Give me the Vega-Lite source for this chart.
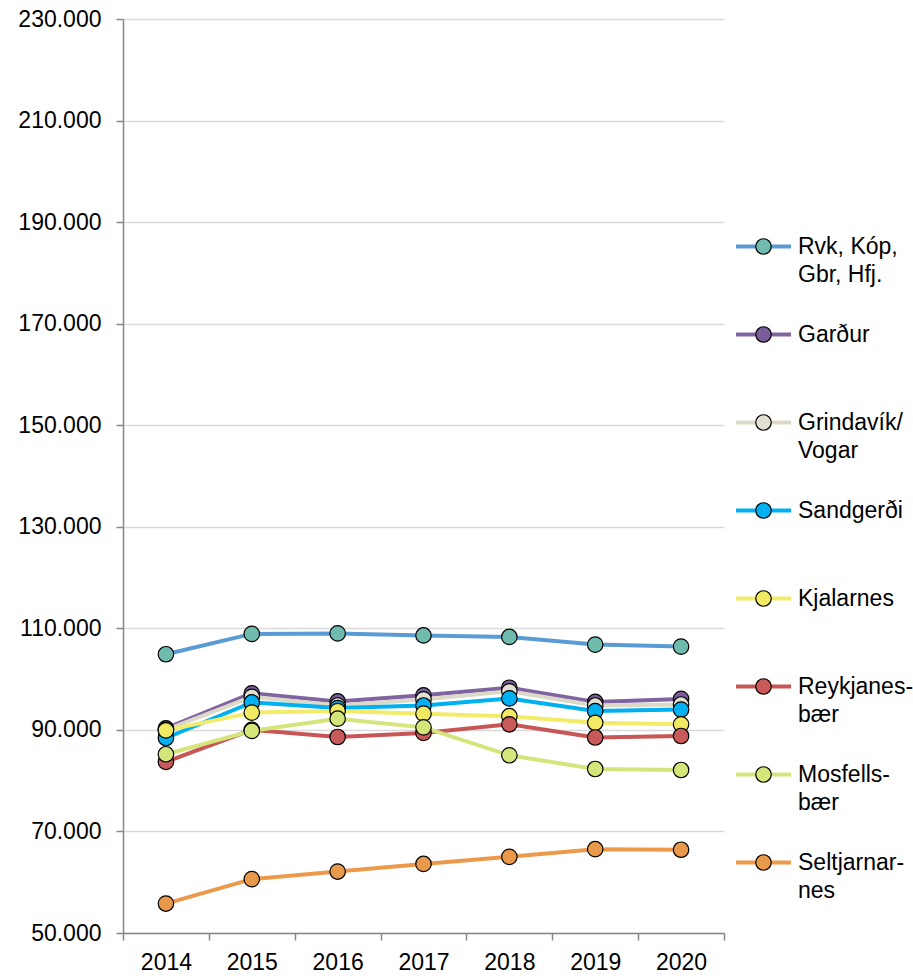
{
  "$schema": "https://vega.github.io/schema/vega-lite/v6.json",
  "autosize": {"type": "none"},
  "padding": {"left": 123, "top": 19, "right": 189, "bottom": 43},
  "width": 601,
  "height": 914,
  "background": "white",
  "config": {
    "view": {"stroke": null},
    "font": "Liberation Sans",
    "axis": {"labelFont": "Liberation Sans", "labelFontSize": 23, "labelColor": "black"},
    "legend": {"padding": 0}
  },
  "data": {
    "values": [
      {"year": "2014", "series": "Rvk, Kóp, Gbr, Hfj.", "value": 104900},
      {"year": "2015", "series": "Rvk, Kóp, Gbr, Hfj.", "value": 108900},
      {"year": "2016", "series": "Rvk, Kóp, Gbr, Hfj.", "value": 109000},
      {"year": "2017", "series": "Rvk, Kóp, Gbr, Hfj.", "value": 108600},
      {"year": "2018", "series": "Rvk, Kóp, Gbr, Hfj.", "value": 108300},
      {"year": "2019", "series": "Rvk, Kóp, Gbr, Hfj.", "value": 106800},
      {"year": "2020", "series": "Rvk, Kóp, Gbr, Hfj.", "value": 106400},
      {"year": "2014", "series": "Garður", "value": 90300},
      {"year": "2015", "series": "Garður", "value": 97200},
      {"year": "2016", "series": "Garður", "value": 95600},
      {"year": "2017", "series": "Garður", "value": 96800},
      {"year": "2018", "series": "Garður", "value": 98300},
      {"year": "2019", "series": "Garður", "value": 95500},
      {"year": "2020", "series": "Garður", "value": 96100},
      {"year": "2014", "series": "Grindavík/Vogar", "value": 90000},
      {"year": "2015", "series": "Grindavík/Vogar", "value": 96500},
      {"year": "2016", "series": "Grindavík/Vogar", "value": 94800},
      {"year": "2017", "series": "Grindavík/Vogar", "value": 96000},
      {"year": "2018", "series": "Grindavík/Vogar", "value": 97600},
      {"year": "2019", "series": "Grindavík/Vogar", "value": 94800},
      {"year": "2020", "series": "Grindavík/Vogar", "value": 95000},
      {"year": "2014", "series": "Sandgerði", "value": 88400},
      {"year": "2015", "series": "Sandgerði", "value": 95400},
      {"year": "2016", "series": "Sandgerði", "value": 94300},
      {"year": "2017", "series": "Sandgerði", "value": 94800},
      {"year": "2018", "series": "Sandgerði", "value": 96200},
      {"year": "2019", "series": "Sandgerði", "value": 93700},
      {"year": "2020", "series": "Sandgerði", "value": 94000},
      {"year": "2014", "series": "Kjalarnes", "value": 89900},
      {"year": "2015", "series": "Kjalarnes", "value": 93400},
      {"year": "2016", "series": "Kjalarnes", "value": 93700},
      {"year": "2017", "series": "Kjalarnes", "value": 93200},
      {"year": "2018", "series": "Kjalarnes", "value": 92700},
      {"year": "2019", "series": "Kjalarnes", "value": 91400},
      {"year": "2020", "series": "Kjalarnes", "value": 91100},
      {"year": "2014", "series": "Reykjanesbær", "value": 83700},
      {"year": "2015", "series": "Reykjanesbær", "value": 90000},
      {"year": "2016", "series": "Reykjanesbær", "value": 88600},
      {"year": "2017", "series": "Reykjanesbær", "value": 89400},
      {"year": "2018", "series": "Reykjanesbær", "value": 91100},
      {"year": "2019", "series": "Reykjanesbær", "value": 88500},
      {"year": "2020", "series": "Reykjanesbær", "value": 88800},
      {"year": "2014", "series": "Mosfellsbær", "value": 85200},
      {"year": "2015", "series": "Mosfellsbær", "value": 89800},
      {"year": "2016", "series": "Mosfellsbær", "value": 92200},
      {"year": "2017", "series": "Mosfellsbær", "value": 90500},
      {"year": "2018", "series": "Mosfellsbær", "value": 85000},
      {"year": "2019", "series": "Mosfellsbær", "value": 82300},
      {"year": "2020", "series": "Mosfellsbær", "value": 82100},
      {"year": "2014", "series": "Seltjarnarnes", "value": 55800},
      {"year": "2015", "series": "Seltjarnarnes", "value": 60600},
      {"year": "2016", "series": "Seltjarnarnes", "value": 62100},
      {"year": "2017", "series": "Seltjarnarnes", "value": 63600},
      {"year": "2018", "series": "Seltjarnarnes", "value": 65000},
      {"year": "2019", "series": "Seltjarnarnes", "value": 66500},
      {"year": "2020", "series": "Seltjarnarnes", "value": 66400}
    ]
  },
  "encoding": {
    "x": {
      "field": "year", "type": "ordinal", "bandPosition": 0.5,
      "scale": {"type": "band", "paddingInner": 0, "paddingOuter": 0},
      "axis": {
        "title": null, "labelAngle": 0, "tickBand": "extent", "grid": false,
        "domainColor": "#868686", "domainWidth": 1.5,
        "tickColor": "#868686", "tickWidth": 1.5, "tickSize": 7,
        "labelPadding": 11
      }
    },
    "y": {
      "field": "value", "type": "quantitative",
      "scale": {"domain": [50000, 230000], "nice": false, "zero": false},
      "axis": {
        "title": null,
        "values": [50000, 70000, 90000, 110000, 130000, 150000, 170000, 190000, 210000, 230000],
        "labelExpr": "replace(format(datum.value, ','), ',', '.')",
        "domainColor": "#868686", "domainWidth": 1.5,
        "tickColor": "#868686", "tickWidth": 1.5, "tickSize": 7,
        "labelPadding": 15,
        "grid": true, "gridColor": "#d9d9d9", "gridWidth": 1.5
      }
    }
  },
  "layer": [
    {
      "mark": {"type": "line", "strokeWidth": 4},
      "encoding": {
        "stroke": {
          "field": "series", "type": "nominal",
          "scale": {
            "domain": ["Rvk, Kóp, Gbr, Hfj.", "Garður", "Grindavík/Vogar", "Sandgerði", "Kjalarnes", "Reykjanesbær", "Mosfellsbær", "Seltjarnarnes"],
            "range": ["#5b9bd5", "#8064a2", "#ddd9c8", "#00b0f0", "#f2ec6a", "#c85656", "#d6e47c", "#ec9a4a"]
          },
          "legend": {
            "title": null, "orient": "none", "legendX": 629, "legendY": 216,
            "symbolType": "M-3.056,0H-0.78M0.78,0H3.056", "symbolSize": 324, "symbolStrokeWidth": 4,
            "symbolFillColor": "transparent",
            "labelFont": "Liberation Sans", "labelFontSize": 23, "labelColor": "black",
            "labelOffset": 23, "labelLimit": 0, "labelBaseline": "middle", "rowPadding": 36,
            "labelExpr": "datum.label == 'Rvk, Kóp, Gbr, Hfj.' ? ['Rvk, Kóp,', 'Gbr, Hfj.'] : datum.label == 'Grindavík/Vogar' ? ['Grindavík/', 'Vogar'] : datum.label == 'Reykjanesbær' ? ['Reykjanes-', 'bær'] : datum.label == 'Mosfellsbær' ? ['Mosfells-', 'bær'] : datum.label == 'Seltjarnarnes' ? ['Seltjarnar-', 'nes'] : [datum.label, '']",
            "encode": {"labels": {"update": {"lineHeight": {"value": 28}}}}
          }
        }
      }
    },
    {
      "mark": {"type": "point", "shape": "circle", "filled": true, "size": 240, "stroke": "black", "strokeWidth": 1.2, "opacity": 1},
      "encoding": {
        "fill": {
          "field": "series", "type": "nominal",
          "sort": ["Rvk, Kóp, Gbr, Hfj.", "Garður", "Grindavík/Vogar", "Sandgerði", "Kjalarnes", "Reykjanesbær", "Mosfellsbær", "Seltjarnarnes"],
          "scale": {"range": ["#6fbbae", "#7a5e9c", "#e4dfd3", "#00b0f0", "#f2ea62", "#c85a5a", "#d4e57a", "#e8994a"]},
          "legend": {
            "title": null, "orient": "none", "legendX": 629, "legendY": 216,
            "symbolType": "circle", "symbolSize": 240, "symbolStrokeColor": "black", "symbolStrokeWidth": 1.2,
            "symbolOpacity": 1,
            "labelFont": "Liberation Sans", "labelFontSize": 23, "labelColor": "black", "labelOpacity": 0,
            "labelOffset": 6, "labelLimit": 0, "labelBaseline": "middle", "rowPadding": 36,
            "labelExpr": "['', '']",
            "encode": {"labels": {"update": {"lineHeight": {"value": 28}}}}
          }
        }
      }
    }
  ]
}
